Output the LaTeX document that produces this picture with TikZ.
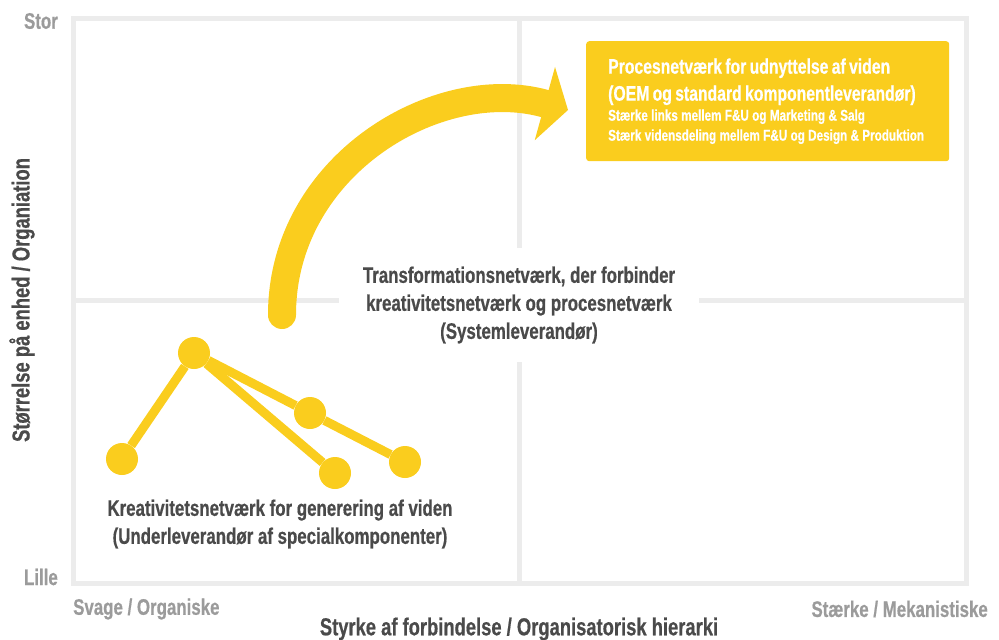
\documentclass[tikz,border=0pt]{standalone}
\usepackage{fontspec}
\setmainfont[FakeStretch=0.75,BoldFeatures={FakeBold=0.6}]{Liberation Sans}
\usepackage{tikz}
\usetikzlibrary{arrows.meta,calc,positioning}
\definecolor{NetYellow}{RGB}{250,205,30}
\definecolor{GridGray}{RGB}{236,236,236}
\definecolor{TextDark}{RGB}{74,74,74}
\definecolor{TextLight}{RGB}{155,155,155}

\begin{document}
\begin{tikzpicture}[x=1pt,y=-1pt,
    axisend/.style={font=\bfseries\fontsize{22.5}{26}\selectfont,text=TextLight,inner sep=0pt},
    axistitle/.style={font=\bfseries\fontsize{24.5}{28}\selectfont,text=TextDark,inner sep=0pt},
    quadtext/.style={font=\bfseries\fontsize{22.5}{28}\selectfont,text=TextDark,align=center},
    netdot/.style={circle,fill=NetYellow,minimum size=32pt,inner sep=0pt},
    netlink/.style={NetYellow,line width=9pt},
    bigarrow/.style={NetYellow,line width=28pt,line cap=round,
      -{Triangle[length=24pt,width=76pt,line width=0pt]}}]
  \useasboundingbox (0,0) rectangle (999,640);
  % frame and quadrants
  \draw[GridGray,line width=5pt] (73.5,18.5) rectangle (966.5,583);
  \draw[GridGray,line width=5pt] (519,18.5) -- (519,583);
  \draw[GridGray,line width=5pt] (73.5,300) -- (966.5,300);
  \node[quadtext,fill=white,minimum width=360pt,minimum height=114pt] (trans) at (519,305)
    {Transformationsnetværk, der forbinder\\kreativitetsnetværk og procesnetværk\\(Systemleverandør)};
  % axes
  \node[axisend,anchor=east] (stor) at (58,21) {Stor};
  \node[axisend,anchor=east] (lille) at (58,577) {Lille};
  \node[axisend,anchor=west] (svage) at (73,609) {Svage / Organiske};
  \node[axisend,anchor=east] (staerke) at (988,609) {Stærke / Mekanistiske};
  \node[axistitle] (xtitle) at (519,629) {Styrke af forbindelse / Organisatorisk hierarki};
  \node[axistitle,rotate=90] (ytitle) at (22,300) {Størrelse på enhed / Organiation};
  % process network box
  \node[anchor=north west,fill=NetYellow,rounded corners=3pt,text=white,
    minimum width=363pt,minimum height=120pt,inner xsep=22pt,inner ysep=0pt,
    text width=319pt,align=left] (proc) at (586,41)
    {{\bfseries\fontsize{21}{27}\selectfont Procesnetværk for udnyttelse af viden\\(OEM og standard komponentleverandør)\par}
     {\bfseries\fontsize{15.6}{20}\selectfont Stærke links mellem F\&U og Marketing \& Salg\\Stærk vidensdeling mellem F\&U og Design \& Produktion\par}};
  % transformation arrow
  \coordinate (arcstart) at (282,315);
  \coordinate (arctip) at (568,110);
  \draw[bigarrow] (arcstart) .. controls (282,165) and (438,74) .. (arctip);
  % creativity network
  \node[netdot] (k1) at (122,459) {};
  \node[netdot] (k2) at (194,353) {};
  \node[netdot] (k3) at (310,413) {};
  \node[netdot] (k4) at (335,473) {};
  \node[netdot] (k5) at (405,462) {};
  \draw[netlink] (k1) -- (k2) -- (k3) -- (k5);
  \draw[netlink] (k2) -- (k4);
  \node[quadtext] (krea) at (280,524)
    {Kreativitetsnetværk for generering af viden\\(Underleverandør af specialkomponenter)};
\end{tikzpicture}
\end{document}
